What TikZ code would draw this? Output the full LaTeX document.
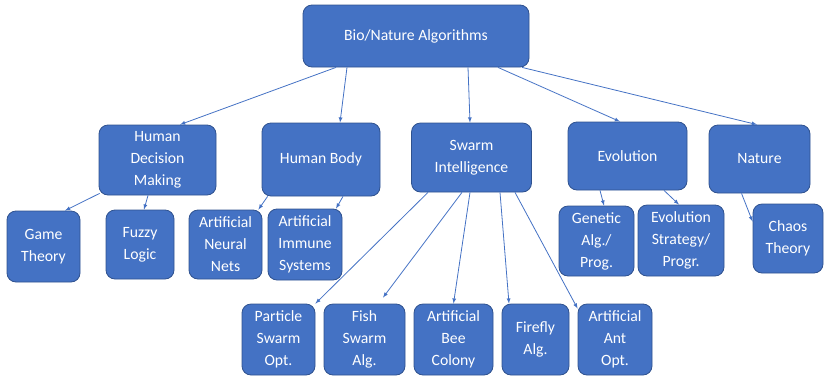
\documentclass[tikz,border=0pt]{standalone}
\usepackage{fontspec}
\setmainfont{Carlito}
\definecolor{boxblue}{HTML}{4472C4}
\definecolor{edgeblue}{HTML}{2F528F}
\tikzset{>=latex}
\tikzset{
    box/.style={draw=edgeblue, fill=boxblue, rounded corners=9pt, text=white,
        align=center, inner sep=1pt, line width=0.8pt,
        font=\fontsize{15.7}{22}\selectfont},
    link/.style={->, draw=boxblue, line width=0.8pt}
}

\begin{document}
\begin{tikzpicture}[x=1pt,y=-1pt]
            \useasboundingbox (0,0) rectangle (824,378);
            \node[box, minimum width=226pt, minimum height=62pt] (root) at (416,36) {Bio/Nature Algorithms};
            \node[box, minimum width=117pt, minimum height=70pt] (hdm) at (157.5,160) {Human\\Decision\\Making};
            \node[box, minimum width=118pt, minimum height=73pt] (hb) at (321,159.5) {Human Body};
            \node[box, minimum width=120pt, minimum height=69pt] (si) at (471.5,157.5) {Swarm\\Intelligence};
            \node[box, minimum width=119pt, minimum height=68pt] (evo) at (627.5,156) {Evolution};
            \node[box, minimum width=101pt, minimum height=68pt] (nat) at (759.5,159) {Nature};
            \node[box, minimum width=73pt, minimum height=71pt] (game) at (43.5,246.5) {Game\\Theory};
            \node[box, minimum width=68pt, minimum height=69pt] (fuzzy) at (140,244.5) {Fuzzy\\Logic};
            \node[box, minimum width=73pt, minimum height=69pt] (ann) at (225.5,244.5) {Artificial\\Neural\\Nets};
            \node[box, minimum width=74pt, minimum height=71pt] (ais) at (305,244.5) {Artificial\\Immune\\Systems};
            \node[box, minimum width=75pt, minimum height=70pt] (gen) at (596.5,241) {Genetic\\Alg./\\Prog.};
            \node[box, minimum width=86pt, minimum height=71pt] (esp) at (681,240.5) {Evolution\\Strategy/\\Progr.};
            \node[box, minimum width=70pt, minimum height=69pt] (chaos) at (788,238.5) {Chaos\\Theory};
            \node[box, minimum width=73pt, minimum height=71pt] (pso) at (278.5,339.5) {Particle\\Swarm\\Opt.};
            \node[box, minimum width=81pt, minimum height=71pt] (fish) at (364.5,339.5) {Fish\\Swarm\\Alg.};
            \node[box, minimum width=79pt, minimum height=71pt] (bee) at (453.5,339.5) {Artificial\\Bee\\Colony};
            \node[box, minimum width=67pt, minimum height=71pt] (firefly) at (535.5,339.5) {Firefly\\Alg.};
            \node[box, minimum width=74pt, minimum height=71pt] (ant) at (615,339.5) {Artificial\\Ant\\Opt.};
            % first level
            \draw[link] ([xshift=-80pt]root.south) -- ([xshift=22.5pt]hdm.north);
            \draw[link] ([xshift=-69pt]root.south) -- ([xshift=19pt]hb.north);
            \draw[link] ([xshift=52pt]root.south) -- ([xshift=-1.5pt]si.north);
            \draw[link] ([xshift=82pt]root.south) -- ([xshift=-7.5pt]evo.north);
            \draw[link] ([xshift=106pt]root.south) -- ([xshift=-2.5pt]nat.north);
            % second level
            \draw[link] ([xshift=1pt,yshift=2pt]hdm.south west) -- ([xshift=21.5pt]game.north);
            \draw[link] ([xshift=-9.5pt]hdm.south) -- ([xshift=4pt]fuzzy.north);
            \draw[link] ([xshift=6pt]hb.south west) -- ([xshift=-4pt]ann.north east);
            \draw[link] ([xshift=22pt]hb.south) -- ([xshift=31pt]ais.north);
            \draw[link] ([xshift=-43.5pt]si.south) -- (pso.north east);
            \draw[link] ([xshift=-9.5pt]si.south) -- ([xshift=18.5pt,yshift=6pt]fish.north);
            \draw[link] ([xshift=-1.5pt]si.south) -- (bee.north);
            \draw[link] ([xshift=28.5pt]si.south) -- ([xshift=-26.5pt]firefly.north);
            \draw[link] ([xshift=43.5pt]si.south) -- ([yshift=-5pt]ant.north west);
            \draw[link] ([xshift=-27.5pt]evo.south) -- ([xshift=7.5pt]gen.north);
            \draw[link] ([xshift=36.5pt]evo.south) -- ([xshift=-2pt]esp.north);
            \draw[link] ([xshift=-18pt]nat.south) -- ([yshift=-18pt]chaos.north west);
        \end{tikzpicture}
\end{document}
